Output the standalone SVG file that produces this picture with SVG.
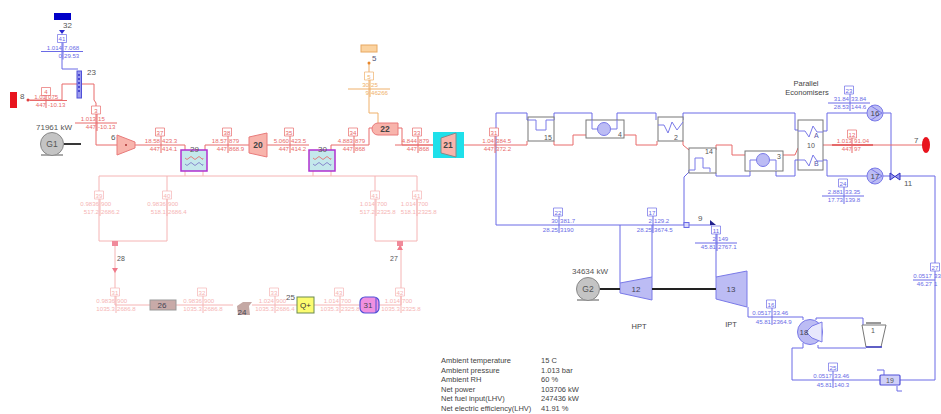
<svg xmlns="http://www.w3.org/2000/svg" xmlns:xlink="http://www.w3.org/1999/xlink" width="941" height="414" viewBox="0 0 941 414">
<style>
text{font-family:"Liberation Sans",Arial,sans-serif;font-size:6.1px;fill:currentColor;stroke:none}
.r{color:#e86a6a}.p{color:#f5b4b4}.o{color:#efb06a}.b{color:#6a6ae6}
.s{fill:none;stroke:currentColor;stroke-width:1}
.lab{font-size:8px;fill:#555}
.sm{font-size:7px;fill:#555}
.n{font-size:8.5px;font-weight:bold;fill:#444;text-anchor:middle}
.nl{font-size:8px;fill:#445;text-anchor:middle}
.m{text-anchor:middle}.e{text-anchor:end}
.box{fill:#fff;stroke:currentColor;stroke-width:.7}
.hx{fill:#fff;stroke:#777;stroke-width:1}
.wb{fill:none;stroke:#7a7ae8;stroke-width:1}
.info{font-size:7.5px;fill:#444}
.blue{fill:#bcbcf4;stroke:#7a7ae8;stroke-width:1}
.gen{fill:#c4c4c4;stroke:#888;stroke-width:1}
.shaft{stroke:#222;stroke-width:1.8;fill:none}
.tx{font-size:8.5px;fill:#555;text-anchor:middle}
</style>
<defs>
<path id="t" d="M-21 0H21M1 -9V8"/>
<path id="v" d="M1 -9V8"/>
<path id="b" d="M-4.5 -17h9v8h-9z"/>
</defs>

<g id="connectors">
<g class="b">
<path class="s" d="M62 34V69H78"/>
<path class="s" d="M496 145V113H527V120H536V130H546V120H554V113H592V129H598M611 129H617V113H656V120M683 120V113H795V130H798"/>
<path class="s" d="M496 145V225H684M684 225V177L689 172V170"/>
<path class="s" d="M687 225H712M620 225V283M652 225V277M716 226V277"/>
<path class="s" d="M748 307V317H803V320M716 173V176H750V160H757M769 160H776V176H795V160H798"/>
<path class="s" d="M823 131H827V113H867M883 113H891V176M823 160H827V176H867M883 176H890M900 176H935V380H900M880 380H792V348H803V343"/>
<path class="s" d="M816 320V318H863V325M818 345V348H866"/>
<path class="s" d="M877 370H884V375M897 386V391H902"/>
</g>
<g class="r">
<path class="s" d="M28 100H62V84H77M81 84H94V100L96 103V145H117M135 145H185V150M205 150V145H249M267 145H309M331 150V145H369V128H372M398 128H402V145H433M395 145H441"/>
<path class="s" d="M456 145H527V141M554 141V145H573V135H586M624 135H636V145H657V141M683 141V145L689 150M716 150V145H732V155H745M783 155H795L798 148M823 145H925"/>
<path d="M832 145H873" stroke="#e05050" stroke-width="1.4" fill="none"/>
</g>
<g class="o"><path class="s" d="M369 63V113H378V123"/></g>
<g class="p">
<path class="s" d="M99 241V176H417V241H375V176M99 241H167V176M115 241V305H150M176 305H233M252 305H297M314 305H360M379 305H401V241M185 171V176M203 171V176M313 171V176M331 171V176"/>
</g>
</g>

<g id="node-32"><rect x="54" y="13" width="17" height="7" fill="#0000c8"/><text class="lab" x="63" y="28">32</text><path d="M59 30h6l-3 4z" fill="#2a2ad0"/></g>
<g id="node-23"><rect x="77" y="71" width="4.5" height="27" fill="#9a9aee" stroke="#5050d8"/><path d="M79 74v20" stroke="#3030c8" stroke-width="1.5" stroke-dasharray="2 2"/><text class="lab" x="87" y="75">23</text></g>
<g id="node-8"><rect x="10" y="92" width="7" height="16" fill="#e8141e"/><text class="lab" x="20" y="99">8</text><circle cx="28" cy="100" r="1.5" fill="#e04040"/></g>
<g id="node-G1"><rect x="41" y="154" width="22" height="2" fill="#aaa"/><circle class="gen" cx="52" cy="144" r="11.5"/><text class="tx" x="52" y="147">G1</text><text class="lab" x="36" y="130">71961 kW</text><path class="shaft" d="M64 144H81"/></g>
<g id="node-6"><path d="M117 135L135 142V148L117 155Z" fill="#f8b4ac" stroke="#e87a7a"/><text class="lab" x="111" y="140">6</text><circle cx="126" cy="145" r="1" fill="#a33"/></g>
<g id="node-29"><rect x="181" y="150" width="26" height="21" fill="#c4e8ec" stroke="#b030d0" stroke-width="1.5"/><path d="M185 158q2 3 4 0t4 0t4 0t4 0t2 0" class="s" style="color:#e08080"/><path d="M185 164q2 3 4 0t4 0t4 0t4 0t2 0" class="s" style="color:#88c"/><text class="lab" x="190" y="152">29</text></g>
<g id="node-20"><path d="M249 137L267 133V157L249 153Z" fill="#f8b4ac" stroke="#e87a7a"/><text class="n" x="258" y="148">20</text></g>
<g id="node-30"><rect x="309" y="150" width="26" height="21" fill="#c4e8ec" stroke="#b030d0" stroke-width="1.5"/><path d="M313 158q2 3 4 0t4 0t4 0t4 0t2 0" class="s" style="color:#e08080"/><path d="M313 164q2 3 4 0t4 0t4 0t4 0t2 0" class="s" style="color:#88c"/><text class="lab" x="318" y="152">30</text></g>
<g id="node-22"><path d="M378 123H398V135H378A6 6 0 0 1 378 123Z" fill="#f8b4ac" stroke="#e87a7a"/><text class="n" x="385" y="132">22</text></g>
<g id="node-5"><rect x="361" y="45" width="16" height="7" fill="#fbd3a0" stroke="#e8a860"/><text class="lab" x="372" y="61" style="fill:#557">5</text><circle cx="369" cy="63" r="1.5" fill="#e8862a"/></g>
<g id="node-21"><rect x="433" y="132" width="31" height="26" fill="#1fe0ea"/><path d="M441 138L456 133V157L441 153Z" fill="#f8b4ac" stroke="#888"/><text class="n" x="448" y="148">21</text></g>

<g id="node-15"><rect class="hx" x="528" y="117" width="26" height="24"/><path class="wb" d="M528 120H536V130H546V120H554"/><text class="sm" x="544" y="140">15</text></g>
<g id="node-4"><rect class="hx" x="586" y="120" width="38" height="18"/><path class="wb" d="M592 120V129H598M611 129H617V120"/><circle class="blue" cx="604" cy="129" r="6.5"/><text class="sm" x="618" y="137">4</text></g>
<g id="node-2"><rect class="hx" x="658" y="117" width="25" height="24"/><path class="wb" d="M658 125H664L668 133L672 122L677 130L683 122"/><text class="sm" x="674" y="140">2</text></g>
<g id="node-14"><rect class="hx" x="689" y="148" width="27" height="25"/><path class="wb" d="M689 170H695V158H703V168H710V172"/><text class="sm" x="705" y="154">14</text></g>
<g id="node-3"><rect class="hx" x="745" y="151" width="38" height="20"/><path class="wb" d="M750 170V160H757M769 160H776V170"/><circle class="blue" cx="763" cy="160" r="6.5"/><text class="sm" x="777" y="159">3</text></g>
<g id="node-10"><rect class="hx" x="798" y="120" width="25" height="50"/><path class="wb" d="M798 131H805L809 137L813 126L817 132H823M798 160H805L809 166L813 155L817 161H823"/><text class="sm" x="807" y="148">10</text><text class="sm" x="814" y="138" style="fill:#55a">A</text><text class="sm" x="814" y="166" style="fill:#55a">B</text></g>
<g id="node-16"><circle class="blue" cx="875" cy="113" r="8"/><path class="wb" d="M871 106L882 113L871 120"/><text class="nl" x="875" y="116">16</text></g>
<g id="node-17"><circle class="blue" cx="875" cy="176" r="8"/><path class="wb" d="M871 169L882 176L871 183"/><text class="nl" x="875" y="179">17</text></g>
<g id="node-11"><path d="M890 173v7l5-3.5zM900 173v7l-5-3.5z" fill="#9a9aee" stroke="#3030c0"/><text class="lab" x="904" y="186">11</text></g>
<g id="node-7"><text class="lab" x="914" y="143">7</text><ellipse cx="926" cy="145" rx="4" ry="8" fill="#e8141e"/></g>
<g id="node-9"><rect x="684" y="222.5" width="5" height="5" fill="#d8d8fa" stroke="#6a6ae6"/><text class="lab" x="698" y="221">9</text><path d="M710 220L716 225H710Z" fill="#20208c"/></g>
<g id="node-12"><path d="M620 283L652 277V300L620 293Z" class="blue"/><text class="nl" x="636" y="292">12</text></g>
<g id="node-13"><path d="M716 277L747 271V307L716 299Z" class="blue"/><text class="nl" x="731" y="292">13</text></g>
<g id="node-G2"><rect x="577" y="299" width="22" height="2" fill="#aaa"/><circle class="gen" cx="588" cy="289" r="11.5"/><text class="tx" x="588" y="292">G2</text><text class="lab" x="572" y="274">34634 kW</text></g>
<path id="shafts" class="shaft" d="M600 289H620M652 289H716"/>
<g id="node-18"><circle class="blue" cx="810" cy="332" r="12.5"/><path d="M822 322L812 326L806 332L812 338L822 342Z" fill="#e8e8fc" stroke="#7a7ae8"/><text class="nl" x="804" y="335">18</text></g>
<g id="node-1"><path d="M862 325H886L881 347H866Z" fill="#fff" stroke="#777"/><path d="M866 323H881" stroke="#333"/><path d="M866 347H882" stroke="#4040c8" stroke-width="1.5"/><text class="sm" x="871" y="333">1</text></g>
<g id="node-19"><rect x="880" y="375" width="20" height="10" rx="1" fill="#d0d0f8" stroke="#5050d8" stroke-width="1.2"/><text class="sm" x="886" y="383">19</text></g>
<g id="node-26"><rect x="150" y="300" width="26" height="10" fill="#c8aaa8" stroke="#999"/><text class="nl" x="162" y="308">26</text></g>
<g id="node-24"><path d="M237 306L243 302H252L249 306L250 315H238Z" fill="#c4a8a4"/><text class="nl" x="242" y="315">24</text></g>
<g id="node-25"><rect x="297" y="297" width="17" height="16" fill="#fcfc70" stroke="#6a8a50" stroke-width="1"/><text class="nl" x="305.5" y="308" style="fill:#333">Q+</text><text class="lab" x="286" y="300">25</text></g>
<g id="node-31"><rect x="360" y="297" width="19" height="16" rx="5" fill="#f090e0" stroke="#5050d8" stroke-width="1.2"/><path d="M376 298V312" stroke="#5050d8"/><text class="nl" x="368" y="308">31</text></g>
<g id="node-28"><rect x="112" y="241" width="6" height="5" fill="#f08a9a"/><path d="M112 268h6l-3 5z" fill="#f07a8a"/><text class="sm" x="117" y="261">28</text></g>
<g id="node-27"><rect x="397" y="241" width="6" height="5" fill="#f08a9a"/><path d="M397 250h6l-3-5z" fill="#f07a8a"/><text class="sm" x="390" y="261">27</text></g>

<g id="labels-streams">
<g class="b">
<use href="#t" xlink:href="#t" class="s" x="62" y="51.5"/><use href="#b" xlink:href="#b" class="box" x="62" y="51.5"/><text class="m" x="62" y="41">41</text><text class="e" x="62" y="49.5">1.014</text><text x="64" y="49.5">7.068</text><text class="e" x="62" y="57.5">0</text><text x="64" y="57.5">29.53</text>
<use href="#v" xlink:href="#v" class="s" x="558" y="225"/><use href="#b" xlink:href="#b" class="box" x="558" y="225"/><text class="m" x="558" y="214.5">22</text><text class="e" x="558" y="223">30</text><text x="560" y="223">381.7</text><text class="e" x="558" y="231.5">28.25</text><text x="560" y="231.5">3190</text>
<use href="#v" xlink:href="#v" class="s" x="652" y="225"/><use href="#b" xlink:href="#b" class="box" x="652" y="225"/><text class="m" x="652" y="214.5">17</text><text class="e" x="652" y="223">2</text><text x="654" y="223">129.2</text><text class="e" x="652" y="231.5">28.25</text><text x="654" y="231.5">3674.5</text>
<use href="#t" xlink:href="#t" class="s" x="716" y="243"/><use href="#b" xlink:href="#b" class="box" x="716" y="243"/><text class="m" x="716" y="232.5">11</text><text class="e" x="716" y="241">2</text><text x="718" y="241">149</text><text class="e" x="716" y="249">45.81</text><text x="718" y="249">2767.1</text>
<use href="#t" xlink:href="#t" class="s" x="849" y="103"/><use href="#b" xlink:href="#b" class="box" x="849" y="103"/><text class="m" x="849" y="92.5">23</text><text class="e" x="849" y="100.5">31.84</text><text x="851" y="100.5">33.84</text><text class="e" x="849" y="109">28.53</text><text x="851" y="109">144.6</text>
<use href="#t" xlink:href="#t" class="s" x="843" y="196"/><use href="#b" xlink:href="#b" class="box" x="843" y="196"/><text class="m" x="843" y="185.5">24</text><text class="e" x="843" y="193.5">2.881</text><text x="845" y="193.5">33.35</text><text class="e" x="843" y="202">17.73</text><text x="845" y="202">139.8</text>
<use href="#v" xlink:href="#v" class="s" x="771" y="317"/><use href="#b" xlink:href="#b" class="box" x="771" y="317"/><text class="m" x="771" y="306.5">16</text><text class="e" x="771" y="315">0.0517</text><text x="773" y="315">33.46</text><text class="e" x="771" y="323.5">45.81</text><text x="773" y="323.5">2364.9</text>
<use href="#v" xlink:href="#v" class="s" x="832" y="380"/><use href="#b" xlink:href="#b" class="box" x="833" y="380"/><text class="m" x="833" y="369.5">25</text><text class="e" x="832" y="378">0.0517</text><text x="834" y="378">33.46</text><text class="e" x="832" y="386.5">45.81</text><text x="834" y="386.5">140.3</text>
<use href="#b" xlink:href="#b" class="box" x="935" y="280"/><text class="m" x="935" y="269.5">27</text><text class="e" x="932" y="277.5">0.0517</text><text x="934" y="277.5">33</text><text class="e" x="932" y="285.5">46.27</text><text x="934" y="285.5">1</text><path class="s" d="M913 280H935"/>
</g>
<g class="r">
<use href="#b" xlink:href="#b" class="box" x="46" y="104.5"/><text class="m" x="46" y="94">4</text><path class="s" d="M30 100.5H67M46 95V108"/><text class="e" x="46" y="98.5">1.01</text><text x="48" y="98.5">075</text><text class="e" x="46" y="107">447</text><text x="48" y="107">-10.13</text>
<use href="#t" xlink:href="#t" class="s" x="96" y="123"/><use href="#b" xlink:href="#b" class="box" x="96" y="123"/><text class="m" x="96" y="112.5">3</text><text class="e" x="96" y="120.5">1.013</text><text x="98" y="120.5">15</text><text class="e" x="96" y="129">447</text><text x="98" y="129">-10.13</text>
<use href="#v" xlink:href="#v" class="s" x="160" y="145"/><use href="#b" xlink:href="#b" class="box" x="160" y="145"/><text class="m" x="160" y="134.5">37</text><text class="e" x="160" y="143">18.58</text><text x="162" y="143">423.3</text><text class="e" x="160" y="151">447</text><text x="162" y="151">414.1</text>
<use href="#v" xlink:href="#v" class="s" x="227" y="145"/><use href="#b" xlink:href="#b" class="box" x="227" y="145"/><text class="m" x="227" y="134.5">38</text><text class="e" x="227" y="143">18.57</text><text x="229" y="143">879</text><text class="e" x="227" y="151">447</text><text x="229" y="151">868.9</text>
<use href="#v" xlink:href="#v" class="s" x="289" y="145"/><use href="#b" xlink:href="#b" class="box" x="289" y="145"/><text class="m" x="289" y="134.5">35</text><text class="e" x="289" y="143">5.060</text><text x="291" y="143">423.5</text><text class="e" x="289" y="151">447</text><text x="291" y="151">414.2</text>
<use href="#v" xlink:href="#v" class="s" x="353" y="145"/><use href="#b" xlink:href="#b" class="box" x="353" y="145"/><text class="m" x="353" y="134.5">34</text><text class="e" x="353" y="143">4.883</text><text x="355" y="143">879</text><text class="e" x="353" y="151">447</text><text x="355" y="151">868</text>
<use href="#v" xlink:href="#v" class="s" x="417" y="145"/><use href="#b" xlink:href="#b" class="box" x="417" y="145"/><text class="m" x="417" y="134.5">33</text><text class="e" x="417" y="143">4.844</text><text x="419" y="143">879</text><text class="e" x="417" y="151">447</text><text x="419" y="151">868</text>
<use href="#v" xlink:href="#v" class="s" x="494" y="145"/><use href="#b" xlink:href="#b" class="box" x="494" y="145"/><text class="m" x="494" y="134.5">31</text><text class="e" x="494" y="143">1.04</text><text x="496" y="143">384.5</text><text class="e" x="494" y="151">447</text><text x="496" y="151">372.2</text>
<use href="#b" xlink:href="#b" class="box" x="852" y="147"/><text class="m" x="852" y="136.5">12</text><path class="s" d="M852 138V153"/><text class="e" x="852" y="143">1.013</text><text x="854" y="143">91.04</text><text class="e" x="852" y="151">447</text><text x="854" y="151">97</text>
</g>
<g class="o">
<use href="#t" xlink:href="#t" class="s" x="369" y="89"/><use href="#b" xlink:href="#b" class="box" x="369" y="89"/><text class="m" x="369" y="78.5">5</text><text class="e" x="369" y="87">30</text><text x="371" y="87">25</text><text class="e" x="369" y="95">9</text><text x="371" y="95">46266</text>
</g>
<g class="p">
<use href="#v" xlink:href="#v" class="s" x="99" y="208"/><use href="#b" xlink:href="#b" class="box" x="99" y="208"/><text class="m" x="99" y="197.5">39</text><text class="e" x="99" y="206">0.9836</text><text x="101" y="206">900</text><text class="e" x="99" y="214">517.2</text><text x="101" y="214">2686.2</text>
<use href="#v" xlink:href="#v" class="s" x="166" y="208"/><use href="#b" xlink:href="#b" class="box" x="167" y="208"/><text class="m" x="167" y="197.5">40</text><text class="e" x="166" y="206">0.9836</text><text x="168" y="206">900</text><text class="e" x="166" y="214">518.1</text><text x="168" y="214">2686.4</text>
<use href="#v" xlink:href="#v" class="s" x="375" y="208"/><use href="#b" xlink:href="#b" class="box" x="375" y="208"/><text class="m" x="375" y="197.5">41</text><text class="e" x="375" y="206">1.014</text><text x="377" y="206">700</text><text class="e" x="375" y="214">517.2</text><text x="377" y="214">2325.8</text>
<use href="#v" xlink:href="#v" class="s" x="416" y="208"/><use href="#b" xlink:href="#b" class="box" x="417" y="208"/><text class="m" x="417" y="197.5">41</text><text class="e" x="416" y="206">1.014</text><text x="418" y="206">700</text><text class="e" x="416" y="214">518.1</text><text x="418" y="214">2325.8</text>
<use href="#v" xlink:href="#v" class="s" x="115" y="305"/><use href="#b" xlink:href="#b" class="box" x="115" y="305"/><text class="m" x="115" y="294.5">31</text><text class="e" x="115" y="303">0.9836</text><text x="117" y="303">900</text><text class="e" x="115" y="311">1035.3</text><text x="117" y="311">2686.8</text>
<use href="#v" xlink:href="#v" class="s" x="202" y="305"/><use href="#b" xlink:href="#b" class="box" x="202" y="305"/><text class="m" x="202" y="294.5">32</text><text class="e" x="202" y="303">0.9836</text><text x="204" y="303">900</text><text class="e" x="202" y="311">1035.3</text><text x="204" y="311">2686.8</text>
<use href="#v" xlink:href="#v" class="s" x="274" y="305"/><use href="#b" xlink:href="#b" class="box" x="274" y="305"/><text class="m" x="274" y="294.5">33</text><text class="e" x="274" y="303">1.024</text><text x="276" y="303">900</text><text class="e" x="274" y="311">1035.3</text><text x="276" y="311">2686.4</text>
<use href="#v" xlink:href="#v" class="s" x="339" y="305"/><use href="#b" xlink:href="#b" class="box" x="339" y="305"/><text class="m" x="339" y="294.5">43</text><text class="e" x="339" y="303">1.014</text><text x="341" y="303">700</text><text class="e" x="339" y="311">1035.3</text><text x="341" y="311">2325.8</text>
<use href="#v" xlink:href="#v" class="s" x="400" y="305"/><use href="#b" xlink:href="#b" class="box" x="400" y="305"/><text class="m" x="400" y="294.5">42</text><text class="e" x="400" y="303">1.014</text><text x="402" y="303">700</text><text class="e" x="400" y="311">1035.3</text><text x="402" y="311">2325.8</text>
</g>
</g>

<g id="captions">
<text class="info m" x="806" y="86">Parallel</text>
<text class="info m" x="807" y="95">Economisers</text>
<text class="info m" x="639" y="329">HPT</text>
<text class="info m" x="731" y="327">IPT</text>
</g>
<g id="summary">
<text class="info" x="441" y="363">Ambient temperature</text><text class="info" x="541" y="363">15 C</text>
<text class="info" x="441" y="373">Ambient pressure</text><text class="info" x="541" y="373">1.013 bar</text>
<text class="info" x="441" y="382">Ambient RH</text><text class="info" x="541" y="382">60 %</text>
<text class="info" x="441" y="392">Net power</text><text class="info" x="541" y="392">103706 kW</text>
<text class="info" x="441" y="401">Net fuel input(LHV)</text><text class="info" x="541" y="401">247436 kW</text>
<text class="info" x="441" y="411">Net electric efficiency(LHV)</text><text class="info" x="541" y="411">41.91 %</text>
</g>
</svg>
